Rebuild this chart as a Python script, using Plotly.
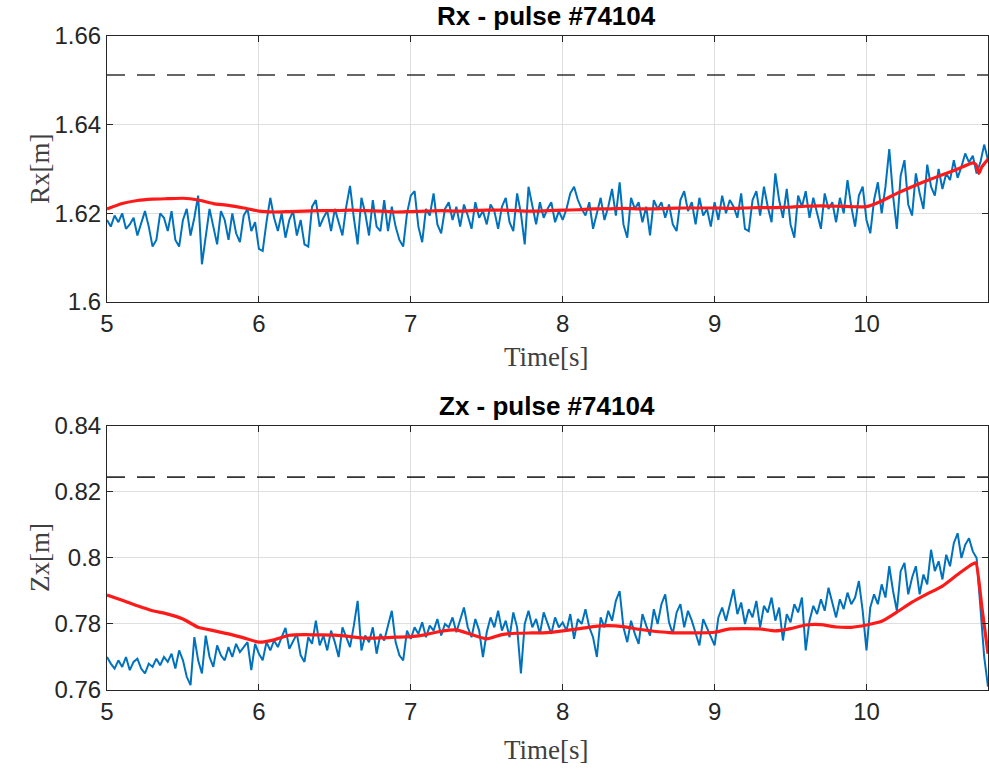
import plotly.graph_objects as go

# ---------------- data ----------------
t_start = 5.0
t_step = 0.025

rx_measured = [
    1.6185, 1.6170, 1.6195, 1.6180, 1.6200, 1.6165, 1.6175, 1.6190, 1.6150, 1.6180,
    1.6205, 1.6170, 1.6125, 1.6140, 1.6200, 1.6190, 1.6160, 1.6205, 1.6140, 1.6125,
    1.6185, 1.6210, 1.6150, 1.6190, 1.6240, 1.6085, 1.6150, 1.6210, 1.6170, 1.6130,
    1.6205, 1.6185, 1.6140, 1.6200, 1.6155, 1.6135, 1.6195, 1.6210, 1.6160, 1.6180,
    1.6120,
    1.6115, 1.6180, 1.6235, 1.6190, 1.6160, 1.6200, 1.6145, 1.6185, 1.6205, 1.6150,
    1.6185, 1.6130, 1.6125, 1.6215, 1.6230, 1.6170, 1.6190, 1.6205, 1.6160, 1.6210,
    1.6180, 1.6150, 1.6215, 1.6262, 1.6190, 1.6130, 1.6235, 1.6200, 1.6150, 1.6230,
    1.6170, 1.6160, 1.6230, 1.6160, 1.6215, 1.6170, 1.6140, 1.6125, 1.6200, 1.6240,
    1.6250, 1.6170, 1.6135, 1.6210, 1.6195, 1.6245, 1.6175, 1.6155, 1.6210, 1.6225,
    1.6185, 1.6215, 1.6170, 1.6220, 1.6195, 1.6165, 1.6225, 1.6190, 1.6205, 1.6175,
    1.6220, 1.6205, 1.6165, 1.6215, 1.6235, 1.6180, 1.6160, 1.6245, 1.6200, 1.6130,
    1.6260, 1.6215, 1.6175, 1.6225, 1.6190, 1.6210, 1.6225, 1.6180, 1.6205, 1.6185,
    1.6210, 1.6245, 1.6260, 1.6230, 1.6210, 1.6195, 1.6225, 1.6165, 1.6200, 1.6235,
    1.6185, 1.6215, 1.6255, 1.6195, 1.6270, 1.6175, 1.6145, 1.6235, 1.6210, 1.6225,
    1.6180, 1.6215, 1.6150, 1.6230, 1.6210, 1.6225, 1.6190, 1.6220, 1.6175, 1.6160,
    1.6230, 1.6250, 1.6205, 1.6225, 1.6175, 1.6235, 1.6195, 1.6210, 1.6170, 1.6225,
    1.6185, 1.6240, 1.6200, 1.6230, 1.6215, 1.6190, 1.6245, 1.6165, 1.6160, 1.6230,
    1.6250, 1.6195, 1.6260, 1.6215, 1.6180, 1.6290, 1.6230, 1.6190, 1.6255, 1.6175,
    1.6145, 1.6240, 1.6215, 1.6250, 1.6190, 1.6235, 1.6200, 1.6165, 1.6245, 1.6210,
    1.6225, 1.6180, 1.6235, 1.6200, 1.6275, 1.6215, 1.6170, 1.6240, 1.6260, 1.6185,
    1.6155, 1.6230, 1.6270, 1.6200, 1.6260, 1.6345, 1.6240, 1.6165, 1.6285, 1.6320,
    1.6220, 1.6195, 1.6290, 1.6245, 1.6210, 1.6310, 1.6260, 1.6240, 1.6300, 1.6255,
    1.6290, 1.6275, 1.6320, 1.6280, 1.6305, 1.6335, 1.6315, 1.6330, 1.6290, 1.6315,
    1.6355, 1.6320,
]

zx_measured = [
    0.7700, 0.7680, 0.7665, 0.7690, 0.7670, 0.7700, 0.7660, 0.7685, 0.7695, 0.7665,
    0.7650, 0.7680, 0.7670, 0.7695, 0.7675, 0.7700, 0.7685, 0.7710, 0.7665, 0.7720,
    0.7690, 0.7640, 0.7615, 0.7760, 0.7690, 0.7650, 0.7765, 0.7700, 0.7670, 0.7735,
    0.7705, 0.7690, 0.7730, 0.7700, 0.7740, 0.7715, 0.7730, 0.7745, 0.7660, 0.7740,
    0.7710,
    0.7690, 0.7745, 0.7720, 0.7750, 0.7730, 0.7760, 0.7788, 0.7725, 0.7750, 0.7770,
    0.7705, 0.7685, 0.7760, 0.7740, 0.7810, 0.7735, 0.7765, 0.7720, 0.7780, 0.7745,
    0.7700, 0.7790, 0.7760, 0.7730, 0.7795, 0.7870, 0.7720, 0.7765, 0.7745, 0.7790,
    0.7710, 0.7770, 0.7750, 0.7800, 0.7840, 0.7745, 0.7705, 0.7690, 0.7780, 0.7755,
    0.7790, 0.7770, 0.7805, 0.7760, 0.7795, 0.7780, 0.7815, 0.7765, 0.7800, 0.7790,
    0.7820, 0.7775, 0.7810, 0.7850, 0.7790, 0.7760, 0.7815, 0.7780, 0.7700, 0.7775,
    0.7820, 0.7790, 0.7840, 0.7780, 0.7810, 0.7760, 0.7835, 0.7790, 0.7650, 0.7800,
    0.7840, 0.7790, 0.7815, 0.7770, 0.7835, 0.7800, 0.7770, 0.7820, 0.7790, 0.7805,
    0.7780, 0.7830, 0.7755, 0.7815, 0.7800, 0.7845, 0.7790, 0.7760, 0.7700, 0.7820,
    0.7790, 0.7840, 0.7810, 0.7870, 0.7900, 0.7790, 0.7745, 0.7810, 0.7770, 0.7740,
    0.7830, 0.7795, 0.7765, 0.7845, 0.7800, 0.7860, 0.7890, 0.7805, 0.7770, 0.7835,
    0.7860, 0.7790, 0.7840, 0.7810, 0.7770, 0.7735, 0.7815, 0.7790, 0.7765, 0.7735,
    0.7820, 0.7850, 0.7810, 0.7860, 0.7905, 0.7830, 0.7865, 0.7800, 0.7845, 0.7820,
    0.7870, 0.7790, 0.7855, 0.7835, 0.7880, 0.7810, 0.7850, 0.7750, 0.7830, 0.7805,
    0.7860, 0.7835, 0.7880, 0.7720, 0.7810, 0.7855, 0.7830, 0.7875, 0.7840, 0.7910,
    0.7860, 0.7820, 0.7875, 0.7845, 0.7895, 0.7860, 0.7880, 0.7930, 0.7840, 0.7720,
    0.7850, 0.7890, 0.7860, 0.7920, 0.7880, 0.7975, 0.7900, 0.7840, 0.7960, 0.7985,
    0.7890, 0.7940, 0.7975, 0.7890, 0.7950, 0.7920, 0.8025, 0.7960, 0.7990, 0.7935,
    0.8010, 0.7975, 0.8045, 0.8075, 0.8000, 0.8040, 0.8060, 0.8020, 0.8000, 0.7850,
    0.7700, 0.7610,
]

rx_fit_t = [5.0, 5.1, 5.2, 5.3, 5.4, 5.5, 5.6, 5.7, 5.8, 5.9,
            6.0, 6.1, 6.2, 6.3, 6.4, 6.5, 6.6, 6.7, 6.8, 6.9,
            7.0, 7.1, 7.2, 7.3, 7.4, 7.5, 7.6, 7.7, 7.8, 7.9,
            8.0, 8.1, 8.2, 8.3, 8.4, 8.5, 8.6, 8.7, 8.8, 8.9,
            9.0, 9.1, 9.2, 9.3, 9.4, 9.5, 9.6, 9.7, 9.8, 9.9,
            10.0, 10.1, 10.2, 10.3, 10.4, 10.5, 10.6, 10.7, 10.72, 10.74,
            10.76, 10.8]
rx_fit = [1.6210, 1.6222, 1.6229, 1.6232, 1.6233, 1.6234, 1.6230, 1.6222, 1.6218, 1.6212,
          1.6205, 1.6203, 1.6204, 1.6205, 1.6206, 1.6206, 1.6207, 1.6206, 1.6205, 1.6203,
          1.6204, 1.6205, 1.6206, 1.6205, 1.6206, 1.6207, 1.6207, 1.6206, 1.6205, 1.6206,
          1.6207, 1.6208, 1.6210, 1.6210, 1.6211, 1.6210, 1.6210, 1.6211, 1.6212, 1.6212,
          1.6212, 1.6211, 1.6212, 1.6213, 1.6213, 1.6214, 1.6216, 1.6217, 1.6216, 1.6215,
          1.6215, 1.6228, 1.6245, 1.6260, 1.6274, 1.6287, 1.6300, 1.6314, 1.6310, 1.6290,
          1.6305, 1.6322]

zx_fit_t = [5.0, 5.1, 5.2, 5.3, 5.4, 5.5, 5.6, 5.7, 5.8, 5.9,
            6.0, 6.1, 6.2, 6.3, 6.4, 6.5, 6.6, 6.7, 6.8, 6.9,
            7.0, 7.1, 7.2, 7.3, 7.4, 7.5, 7.6, 7.7, 7.8, 7.9,
            8.0, 8.1, 8.2, 8.3, 8.4, 8.5, 8.6, 8.7, 8.8, 8.9,
            9.0, 9.1, 9.2, 9.3, 9.4, 9.5, 9.6, 9.7, 9.8, 9.9,
            10.0, 10.1, 10.2, 10.3, 10.4, 10.5, 10.6, 10.7, 10.72, 10.76,
            10.8]
zx_fit = [0.7888, 0.7872, 0.7855, 0.7840, 0.7830, 0.7815, 0.7790, 0.7780, 0.7770, 0.7758,
          0.7745, 0.7752, 0.7766, 0.7768, 0.7767, 0.7766, 0.7762, 0.7757, 0.7758, 0.7760,
          0.7762, 0.7768, 0.7778, 0.7782, 0.7768, 0.7755, 0.7768, 0.7772, 0.7773, 0.7774,
          0.7779, 0.7785, 0.7792, 0.7795, 0.7792, 0.7784, 0.7778, 0.7774, 0.7773, 0.7773,
          0.7775, 0.7785, 0.7786, 0.7785, 0.7779, 0.7786, 0.7797, 0.7798, 0.7791, 0.7790,
          0.7797, 0.7808, 0.7836, 0.7866, 0.7891, 0.7915, 0.7950, 0.7982, 0.7985, 0.7850,
          0.7710]

rx_limit = 1.6512
zx_limit = 0.8245

x_range = [5.0, 10.8]
x_ticks = [5, 6, 7, 8, 9, 10]
x_ticktext = ["5", "6", "7", "8", "9", "10"]
rx_ticks = [1.60, 1.62, 1.64, 1.66]
rx_ticktext = ["1.6", "1.62", "1.64", "1.66"]
zx_ticks = [0.76, 0.78, 0.80, 0.82, 0.84]
zx_ticktext = ["0.76", "0.78", "0.8", "0.82", "0.84"]

titles = ["Rx - pulse #74104", "Zx - pulse #74104"]
ylabels = ["Rx[m]", "Zx[m]"]
xlabel = "Time[s]"

# ---------------- figure ----------------
t_rx = [t_start + i * t_step for i in range(len(rx_measured))]
t_zx = [t_start + i * t_step for i in range(len(zx_measured))]

BLUE = "#0072BD"
RED = "#FF1A1A"
AX = "#262626"
GRID = "#DFDFDF"

fig = go.Figure()
fig.add_trace(go.Scatter(x=t_rx, y=rx_measured, mode="lines",
                         line=dict(color=BLUE, width=2), xaxis="x", yaxis="y"))
fig.add_trace(go.Scatter(x=rx_fit_t, y=rx_fit, mode="lines",
                         line=dict(color=RED, width=3.2, shape="spline", smoothing=0.5),
                         xaxis="x", yaxis="y"))
fig.add_trace(go.Scatter(x=x_range, y=[rx_limit, rx_limit], mode="lines",
                         line=dict(color="#333333", width=1.6, dash="18px,12px"),
                         xaxis="x", yaxis="y"))

fig.add_trace(go.Scatter(x=t_zx, y=zx_measured, mode="lines",
                         line=dict(color=BLUE, width=2), xaxis="x2", yaxis="y2"))
fig.add_trace(go.Scatter(x=zx_fit_t, y=zx_fit, mode="lines",
                         line=dict(color=RED, width=3.2, shape="spline", smoothing=0.5),
                         xaxis="x2", yaxis="y2"))
fig.add_trace(go.Scatter(x=x_range, y=[zx_limit, zx_limit], mode="lines",
                         line=dict(color="#333333", width=1.6, dash="18px,12px"),
                         xaxis="x2", yaxis="y2"))

tickfont = dict(family="Liberation Sans, Arial, sans-serif", size=24, color=AX)
common_axis = dict(showline=True, linecolor=AX, linewidth=1, mirror="ticks",
                   ticks="inside", ticklen=6, tickcolor=AX, showgrid=True,
                   gridcolor=GRID, gridwidth=1, zeroline=False, tickfont=tickfont)

fig.update_layout(
    width=989, height=772,
    margin=dict(l=107, r=1, t=36, b=82),
    paper_bgcolor="white", plot_bgcolor="white",
    showlegend=False,
    xaxis=dict(domain=[0, 1], anchor="y", range=x_range, tickvals=x_ticks,
               ticktext=x_ticktext, **common_axis),
    yaxis=dict(domain=[0.5933, 1], anchor="x", range=[1.60, 1.66], tickvals=rx_ticks,
               ticktext=rx_ticktext, **common_axis),
    xaxis2=dict(domain=[0, 1], anchor="y2", range=x_range, tickvals=x_ticks,
                ticktext=x_ticktext, **common_axis),
    yaxis2=dict(domain=[0, 0.4037], anchor="x2", range=[0.76, 0.84], tickvals=zx_ticks,
                ticktext=zx_ticktext, **common_axis),
)

title_font = dict(family="Liberation Sans, Arial, sans-serif", size=26, color="black")
label_font = dict(family="Liberation Serif, Times New Roman, serif", size=27, color="#404040")

ann = []
for ytitle, text in zip([1.0306, 0.4343], titles):
    ann.append(dict(text="<b>" + text + "</b>", x=0.4994, y=ytitle, xref="paper", yref="paper",
                    showarrow=False, xanchor="center", yanchor="middle", font=title_font))
for yx in [0.509, -0.0917]:
    ann.append(dict(text=xlabel, x=0.4994, y=yx, xref="paper", yref="paper",
                    showarrow=False, xanchor="center", yanchor="middle", font=label_font))
for yl, text in zip([0.7966, 0.2018], ylabels):
    ann.append(dict(text=text, x=-0.076, y=yl, xref="paper", yref="paper", textangle=-90,
                    showarrow=False, xanchor="center", yanchor="middle", font=label_font))
fig.update_layout(annotations=ann)

fig.write_html("out.html",
               config={"displayModeBar": False},
               post_script="document.body.style.margin='0px';"
                           "document.body.style.overflow='hidden';")
